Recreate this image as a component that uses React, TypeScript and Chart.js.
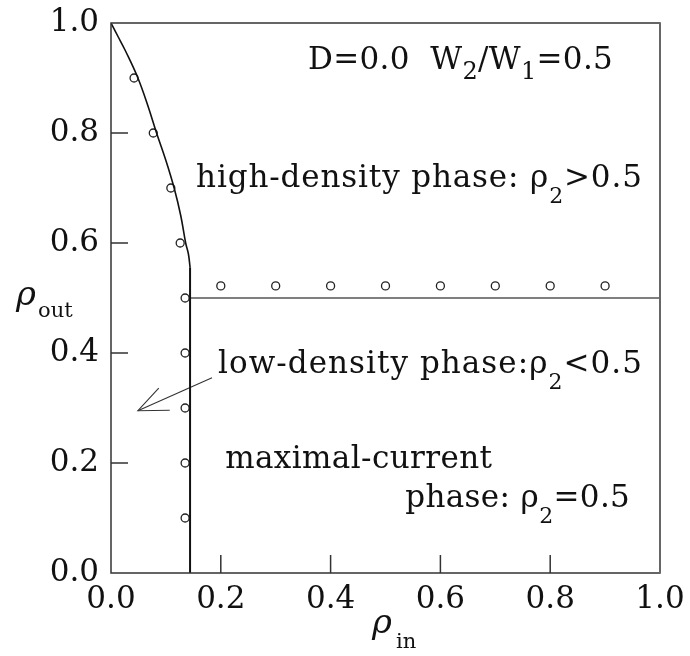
import React, { useEffect, useRef } from 'react';
import { Chart, registerables } from 'chart.js';

Chart.register(...registerables);

// axis ticks
const tickStep = 0.2;
const innerTickValues = [0.2, 0.4, 0.6, 0.8];

// phase boundary curve (rho_in vs rho_out)
const curveIn = [0, 0.013, 0.026, 0.049, 0.067, 0.083, 0.1, 0.115, 0.127, 0.136, 0.141, 0.144];
const curveOut = [1.0, 0.975, 0.95, 0.9, 0.85, 0.8, 0.75, 0.7, 0.65, 0.6, 0.58, 0.556];

// vertical and horizontal boundaries
const verticalIn = [0.144, 0.144];
const verticalOut = [0, 0.556];
const horizontalIn = [0.144, 1.0];
const horizontalOut = [0.5, 0.5];

// simulation points
const simLeftIn = [0.042, 0.077, 0.109, 0.126, 0.135, 0.135, 0.135, 0.135, 0.135];
const simLeftOut = [0.9, 0.8, 0.7, 0.6, 0.5, 0.4, 0.3, 0.2, 0.1];
const simTopIn = [0.2, 0.3, 0.4, 0.5, 0.6, 0.7, 0.8, 0.9];
const simTopOut = [0.522, 0.522, 0.522, 0.522, 0.522, 0.522, 0.522, 0.522];

// arrow (tail -> tip, head lines)
const arrowShaftIn = [0.184, 0.049];
const arrowShaftOut = [0.355, 0.295];
const arrowHeadIn = [0.087, 0.049, 0.107];
const arrowHeadOut = [0.336, 0.295, 0.296];

// text annotations: [text, kind] kind 0 normal, 1 W subscript, 2 rho subscript
const labelHeader: [string, number][] = [['D=0.0  W', 0], ['2', 1], ['/W', 0], ['1', 1], ['=0.5', 0]];
const labelHigh: [string, number][] = [['high-density phase: ρ', 0], ['2', 2], ['>0.5', 0]];
const labelLow: [string, number][] = [['low-density phase:ρ', 0], ['2', 2], ['<0.5', 0]];
const labelMax: [string, number][] = [['maximal-current', 0]];
const labelPhase: [string, number][] = [['phase: ρ', 0], ['2', 2], ['=0.5', 0]];

// anchors in data coordinates: left x, right x, baseline y
const annotations = [
  { parts: labelHeader, x: 0.359, x2: 0.914, y: 0.916 },
  { parts: labelHigh, x: 0.155, x2: 0.967, y: 0.702 },
  { parts: labelLow, x: 0.195, x2: 0.967, y: 0.364 },
  { parts: labelMax, x: 0.208, x2: 0.694, y: 0.191 },
  { parts: labelPhase, x: 0.536, x2: 0.945, y: 0.12 },
];

const zip = (xs: number[], ys: number[]) => xs.map((x, i) => ({ x, y: ys[i] }));

const FONT = 'DejaVu Serif';

const partStyle = (kind: number) => {
  if (kind === 1) return { font: `24px "${FONT}"`, dy: 10 };
  if (kind === 2) return { font: `22px "${FONT}"`, dy: 16 };
  return { font: `31px "${FONT}"`, dy: 0 };
};

const framePlugin = {
  id: 'framePlugin',
  afterDatasetsDraw(chart: any) {
    const { ctx, chartArea } = chart;
    const { left, right, top, bottom } = chartArea;
    const xs = chart.scales.x;
    const ys = chart.scales.y;
    ctx.save();
    ctx.lineWidth = 1.5;
    ctx.strokeStyle = '#333';
    ctx.beginPath();
    ctx.moveTo(right, top);
    ctx.lineTo(left, top);
    ctx.lineTo(left, bottom);
    ctx.lineTo(right, bottom);
    ctx.stroke();
    ctx.strokeStyle = '#666';
    ctx.lineWidth = 2;
    ctx.beginPath();
    ctx.moveTo(right, top - 0.75);
    ctx.lineTo(right, bottom + 0.75);
    ctx.stroke();
    ctx.strokeStyle = '#333';
    ctx.lineWidth = 1.5;
    ctx.beginPath();
    innerTickValues.forEach((v) => {
      const py = ys.getPixelForValue(v);
      ctx.moveTo(left, py);
      ctx.lineTo(left + 17, py);
      const px = xs.getPixelForValue(v);
      ctx.moveTo(px, bottom);
      ctx.lineTo(px, bottom - 18);
    });
    ctx.stroke();

    // annotations
    ctx.fillStyle = '#111';
    ctx.textBaseline = 'alphabetic';
    ctx.textAlign = 'left';
    annotations.forEach((a) => {
      const x0 = xs.getPixelForValue(a.x);
      const x1 = xs.getPixelForValue(a.x2);
      const by = ys.getPixelForValue(a.y);
      const chars: { c: string; font: string; dy: number; w: number }[] = [];
      a.parts.forEach(([t, k]) => {
        const st = partStyle(k);
        ctx.font = st.font;
        for (const c of Array.from(t)) {
          chars.push({ c, font: st.font, dy: st.dy, w: ctx.measureText(c).width });
        }
      });
      const natural = chars.reduce((s, c) => s + c.w, 0);
      const spacing = chars.length > 1 ? (x1 - x0 - natural) / (chars.length - 1) : 0;
      let cx = x0;
      chars.forEach((c) => {
        ctx.font = c.font;
        ctx.fillText(c.c, cx, by + c.dy);
        cx += c.w + spacing;
      });
    });

    // axis titles
    ctx.font = `italic 34px "${FONT}"`;
    ctx.fillText('ρ', 16, 305);
    ctx.font = `21px "${FONT}"`;
    ctx.fillText('out', 38, 317);
    ctx.font = `italic 34px "${FONT}"`;
    ctx.fillText('ρ', 372, 633);
    ctx.font = `21px "${FONT}"`;
    ctx.fillText('in', 396, 648);
    ctx.restore();
  },
};

export default function App() {
  const ref = useRef<HTMLCanvasElement | null>(null);
  useEffect(() => {
    if (!ref.current) return;
    const lineDs = (data: any[], color: string, width: number, extra: any = {}) => ({
      data,
      showLine: true,
      borderColor: color,
      borderWidth: width,
      pointRadius: 0,
      fill: false,
      ...extra,
    });
    const chart = new Chart(ref.current, {
      type: 'scatter',
      data: {
        datasets: [
          lineDs(zip(curveIn, curveOut), '#111', 1.6, { tension: 0.4 }),
          lineDs(zip(verticalIn, verticalOut), '#111', 2),
          lineDs(zip(horizontalIn, horizontalOut), '#555', 1.6),
          lineDs(zip(arrowShaftIn, arrowShaftOut), '#333', 1.1),
          lineDs(zip(arrowHeadIn, arrowHeadOut), '#333', 1.1),
          {
            data: zip(simLeftIn, simLeftOut),
            showLine: false,
            pointRadius: 4,
            pointStyle: 'circle',
            backgroundColor: '#fff',
            borderColor: '#222',
            borderWidth: 1.3,
          },
          {
            data: zip(simTopIn, simTopOut),
            showLine: false,
            pointRadius: 4,
            pointStyle: 'circle',
            backgroundColor: '#fff',
            borderColor: '#222',
            borderWidth: 1.3,
          },
        ],
      },
      options: {
        responsive: false,
        animation: false,
        layout: { padding: { top: 23, right: 30, left: 0, bottom: 0 } },
        plugins: { legend: { display: false }, tooltip: { enabled: false } },
        scales: {
          x: {
            type: 'linear',
            min: 0,
            max: 1,
            grid: { display: false },
            border: { display: false },
            afterFit: (s: any) => { s.height = 83; },
            ticks: {
              stepSize: tickStep,
              padding: 0,
              color: '#111',
              font: { family: FONT, size: 31 },
              callback: (v: any) => Number(v).toFixed(1),
              maxRotation: 0,
              autoSkip: false,
            },
          },
          y: {
            type: 'linear',
            min: 0,
            max: 1,
            grid: { display: false },
            border: { display: false },
            afterFit: (s: any) => { s.width = 111; },
            ticks: {
              stepSize: tickStep,
              padding: 4,
              color: '#111',
              font: { family: FONT, size: 31 },
              callback: (v: any) => Number(v).toFixed(1),
              autoSkip: false,
            },
          },
        },
      },
      plugins: [framePlugin],
    });
    return () => chart.destroy();
  }, []);
  return (
    <div style={{ position: 'fixed', left: 0, top: 0, width: 690, height: 656, background: '#fff' }}>
      <canvas ref={ref} width={690} height={656} />
    </div>
  );
}
